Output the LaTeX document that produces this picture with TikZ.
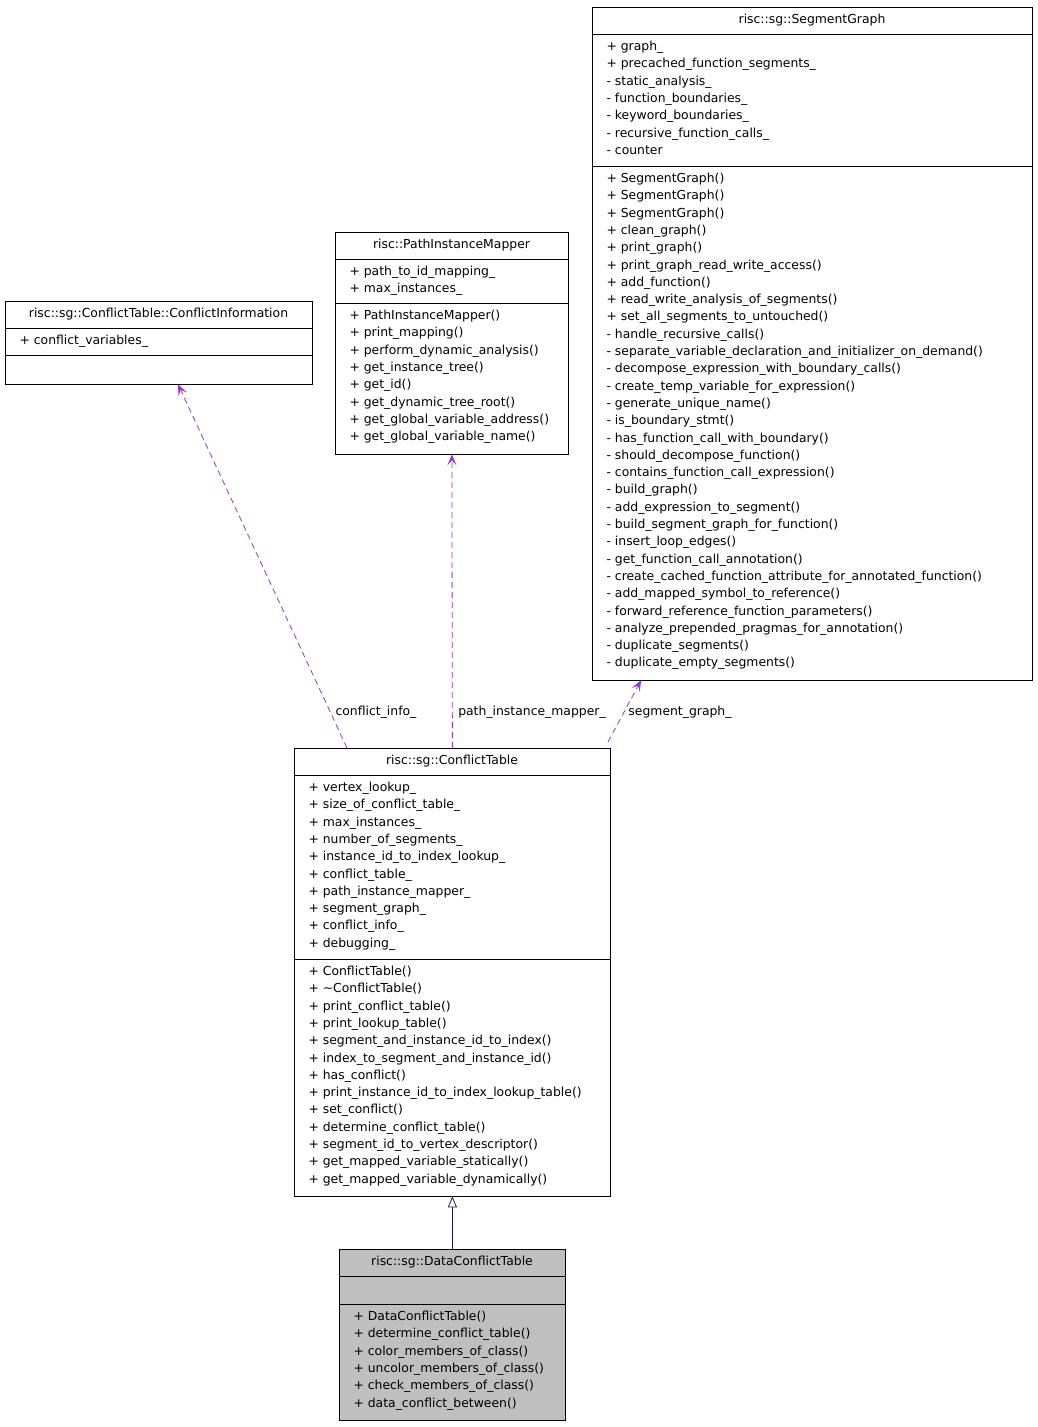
\documentclass[tikz,border=0pt]{standalone}
\usepackage{fontspec}
\setmainfont{DejaVu Sans}
\usetikzlibrary{positioning, arrows.meta, calc}
\catcode`\_=12

\definecolor{member}{HTML}{9A32CD}
\definecolor{inherit}{HTML}{191970}
\def\classfill{white}

% one class box: name, x, y, width, attribute height, method height, title, attributes, methods
\newcommand\umlclass[9]{%
  \node[classbox, fill=\classfill, minimum width=#4pt, minimum height={27.5pt+#5pt+#6pt}, anchor=north west] (#1) at (#2,#3) {};
  \draw[line width=0.8pt] (#2,#3+27.5) -- ++(#4,0) (#2,#3+27.5+#5) -- ++(#4,0);
  \node[anchor=base] (#1-title) at (#2+#4/2,#3+16) {#7};
  \foreach \t [count=\i] in {#8} \node[anchor=base west] at (#2+11,#3+27.5+16+\i*17.3-17.3) {\t};
  \foreach \t [count=\i] in {#9} \node[anchor=base west] at (#2+11,#3+27.5+#5+16+\i*17.3-17.3) {\t};
}

\begin{document}
\begin{tikzpicture}[x=1pt, y=-1pt, font=\fontsize{12.4}{15}\selectfont]

	\tikzstyle{classbox}=[draw, line width=0.8pt, inner sep=0pt]
	\tikzstyle{uses}=[-{Stealth[length=11pt, width=9pt, inset=5pt]}, dashed, dash pattern=on 6pt off 4pt, color=member, line width=0.8pt]
	\tikzstyle{derives}=[-{Triangle[open, length=11pt, width=9pt]}, color=inherit, line width=0.8pt]

	\useasboundingbox (0,0) rectangle (1037,1427);

	\umlclass{sgraph}{592}{7}{440}{132}{513}{risc::sg::SegmentGraph}
	{+ graph_, + precached_function_segments_, - static_analysis_, - function_boundaries_, - keyword_boundaries_, - recursive_function_calls_, - counter}
	{+ SegmentGraph(), + SegmentGraph(), + SegmentGraph(), + clean_graph(), + print_graph(), + print_graph_read_write_access(), + add_function(), + read_write_analysis_of_segments(), + set_all_segments_to_untouched(), - handle_recursive_calls(), - separate_variable_declaration_and_initializer_on_demand(), - decompose_expression_with_boundary_calls(), - create_temp_variable_for_expression(), - generate_unique_name(), - is_boundary_stmt(), - has_function_call_with_boundary(), - should_decompose_function(), - contains_function_call_expression(), - build_graph(), - add_expression_to_segment(), - build_segment_graph_for_function(), - insert_loop_edges(), - get_function_call_annotation(), - create_cached_function_attribute_for_annotated_function(), - add_mapped_symbol_to_reference(), - forward_reference_function_parameters(), - analyze_prepended_pragmas_for_annotation(), - duplicate_segments(), - duplicate_empty_segments()}

	\umlclass{mapper}{335}{232}{233}{44}{150}{risc::PathInstanceMapper}
	{+ path_to_id_mapping_, + max_instances_}
	{+ PathInstanceMapper(), + print_mapping(), + perform_dynamic_analysis(), + get_instance_tree(), + get_id(), + get_dynamic_tree_root(), + get_global_variable_address(), + get_global_variable_name()}

	\umlclass{cinfo}{5}{301}{307}{27}{28}{risc::sg::ConflictTable::ConflictInformation}
	{+ conflict_variables_}
	{}

	\umlclass{ctable}{294}{748}{316}{184}{236}{risc::sg::ConflictTable}
	{+ vertex_lookup_, + size_of_conflict_table_, + max_instances_, + number_of_segments_, + instance_id_to_index_lookup_, + conflict_table_, + path_instance_mapper_, + segment_graph_, + conflict_info_, + debugging_}
	{+ ConflictTable(), + \textasciitilde ConflictTable(), + print_conflict_table(), + print_lookup_table(), + segment_and_instance_id_to_index(), + index_to_segment_and_instance_id(), + has_conflict(), + print_instance_id_to_index_lookup_table(), + set_conflict(), + determine_conflict_table(), + segment_id_to_vertex_descriptor(), + get_mapped_variable_statically(), + get_mapped_variable_dynamically()}

	\def\classfill{black!25}
	\umlclass{dctable}{339}{1249}{226}{28}{115}{risc::sg::DataConflictTable}
	{}
	{+ DataConflictTable(), + determine_conflict_table(), + color_members_of_class(), + uncolor_members_of_class(), + check_members_of_class(), + data_conflict_between()}

	% relations
	\draw[uses] ($(ctable.north west)+(53,0)$) -- ($(cinfo.south west)+(173,0)$);
	\draw[uses] (ctable.north) -- (mapper.south);
	\draw[uses] ($(ctable.north west)+(314,-6)$) -- ($(sgraph.south west)+(49,0)$);
	\draw[derives] (dctable.north) -- (ctable.south);

	\node (lbl_info) at (376,712) {conflict_info_};
	\node (lbl_mapper) at (532,712) {path_instance_mapper_};
	\node (lbl_graph) at (680,712) {segment_graph_};

\end{tikzpicture}
\end{document}
